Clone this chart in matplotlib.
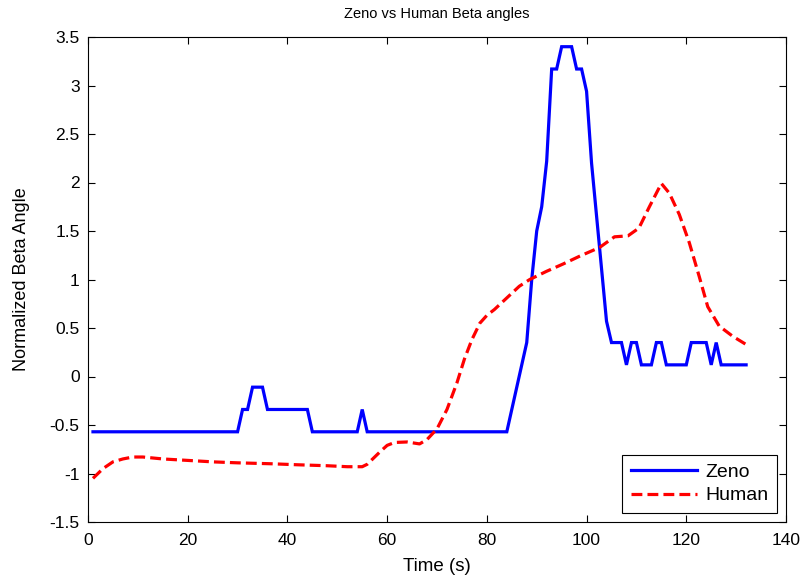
import numpy as np
import matplotlib
matplotlib.use("Agg")
import matplotlib.pyplot as plt

plt.rcParams['font.family'] = ['Liberation Sans', 'DejaVu Sans']

# Zeno: quantized beta angle, one sample per second
zeno_t = list(range(1, 133))
zeno_beta = (
    [-0.57] * 30 +                      # 1-30
    [-0.34, -0.34] +                    # 31-32
    [-0.11, -0.11, -0.11] +             # 33-35
    [-0.34] * 9 +                       # 36-44
    [-0.57] * 10 +                      # 45-54
    [-0.34] +                           # 55
    [-0.57] * 29 +                      # 56-84
    [-0.34, -0.11, 0.12, 0.35] +        # 85-88
    [1.00, 1.50, 1.75, 2.22] +          # 89-92
    [3.17, 3.17, 3.40, 3.40, 3.40, 3.17, 3.17, 2.94] +  # 93-100
    [2.20, 1.66, 1.11, 0.57] +          # 101-104
    [0.35, 0.35, 0.35, 0.12, 0.35, 0.35] +  # 105-110
    [0.12, 0.12, 0.12, 0.35, 0.35] +    # 111-115
    [0.12] * 5 +                        # 116-120
    [0.35, 0.35, 0.35, 0.35] +          # 121-124
    [0.12, 0.35] +                      # 125-126
    [0.12] * 6                          # 127-132
)

# Human: smooth beta angle trace
human_t = [1, 3, 5, 7, 9, 11, 15, 20, 25, 30, 37, 42, 48, 52, 55, 56,
           58.5, 60, 61.5, 64, 66.5, 68, 70, 72, 74, 75.5, 77, 78.6, 80,
           81.5, 84, 86.5, 88.6, 92, 95.3, 98.6, 102.6, 105.6, 108.3,
           110.5, 112.6, 115, 116.6, 118.6, 120.6, 122.6, 124.3, 126.6,
           129.3, 132]
human_beta = [-1.05, -0.95, -0.88, -0.85, -0.83, -0.83, -0.85, -0.865,
              -0.88, -0.89, -0.90, -0.91, -0.92, -0.93, -0.93, -0.905,
              -0.78, -0.71, -0.68, -0.675, -0.695, -0.65, -0.54, -0.34,
              -0.065, 0.18, 0.38, 0.55, 0.63, 0.69, 0.81, 0.93, 1.00,
              1.085, 1.16, 1.24, 1.33, 1.44, 1.45, 1.53, 1.75, 1.99, 1.89,
              1.67, 1.38, 1.03, 0.72, 0.52, 0.415, 0.33]

x_ticks = [0, 20, 40, 60, 80, 100, 120, 140]
y_ticks = [-1.5, -1, -0.5, 0, 0.5, 1, 1.5, 2, 2.5, 3, 3.5]
y_tick_labels = ['-1.5', '-1', '-0.5', '0', '0.5', '1', '1.5', '2', '2.5', '3', '3.5']

fig = plt.figure(figsize=(8.09, 5.79), dpi=100)
ax = fig.add_axes([88 / 809, 1 - 522 / 579, (786 - 88) / 809, (522 - 37) / 579])

ax.plot(zeno_t, zeno_beta, color='#0000ff', linewidth=2.3, label='Zeno',
        solid_joinstyle='miter')
ax.plot(human_t, human_beta, color='#ff0000', linewidth=2.3, linestyle=(0, (3.4, 1.6)),
        label='Human')

ax.set_xlim(0, 140)
ax.set_ylim(-1.5, 3.5)
ax.set_xticks(x_ticks)
ax.set_yticks(y_ticks)
ax.set_yticklabels(y_tick_labels)
ax.tick_params(direction='in', top=True, right=True, length=5, width=0.8,
               labelsize=12.5, pad=6)
ax.tick_params(axis='x', pad=8)
for s in ax.spines.values():
    s.set_linewidth(0.8)

ax.set_title('Zeno vs Human Beta angles', fontsize=10.5, pad=14)
ax.set_xlabel('Time (s)', fontsize=13.5, labelpad=7)
ax.set_ylabel('Normalized Beta Angle', fontsize=13, labelpad=14)

leg = ax.legend(loc='lower right', fontsize=14, fancybox=False, framealpha=1,
                edgecolor='black', handlelength=3.4, handletextpad=0.45,
                borderpad=0.45, labelspacing=0.3, borderaxespad=0.45)
leg.get_frame().set_linewidth(0.8)

fig.savefig('out.png', dpi=100, facecolor='white')
